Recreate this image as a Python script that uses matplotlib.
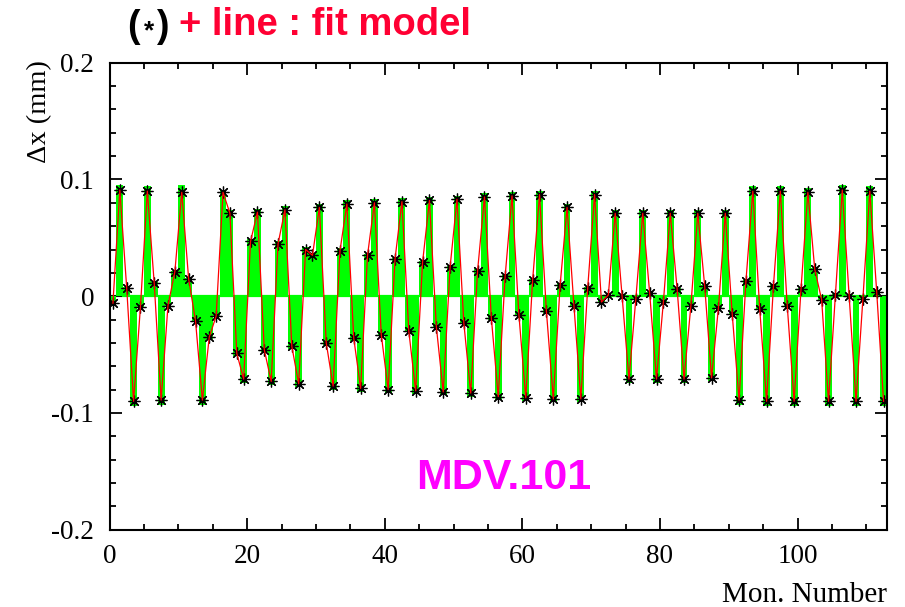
import numpy as np
import matplotlib
matplotlib.use("Agg")
import matplotlib.pyplot as plt
from matplotlib.ticker import MultipleLocator, FuncFormatter

# ── Data ──────────────────────────────────────────────────────────────────────
# monitor index 0..112, bars centred at i + 0.5
N_MON = 113

# measured orbit difference (green bars)
bars = [
    -0.007, 0.095, 0.008, -0.094, -0.010, 0.094, 0.012, -0.093, -0.009, 0.022,
    0.095, 0.016, -0.022, -0.093, -0.037, -0.018, 0.091, 0.074, -0.051, -0.074,
    0.049, 0.075, -0.048, -0.076, 0.047, 0.077, -0.045, -0.078, 0.042, 0.037,
    0.079, -0.042, -0.080, 0.041, 0.082, -0.038, -0.082, 0.036, 0.083, -0.034,
    -0.083, 0.033, 0.084, -0.031, -0.084, 0.030, 0.085, -0.027, -0.085, 0.026,
    0.086, -0.024, -0.086, 0.023, 0.088, -0.020, -0.089, 0.018, 0.089, -0.017,
    -0.090, 0.015, 0.090, -0.014, -0.091, 0.011, 0.079, -0.009, -0.091, 0.008,
    0.090, -0.006, 0.001, 0.074, 0.001, -0.074, -0.002, 0.074, 0.004, -0.074,
    -0.006, 0.074, 0.007, -0.074, -0.009, 0.074, 0.010, -0.073, -0.011, 0.074,
    -0.016, -0.093, 0.014, 0.094, -0.012, -0.094, 0.010, 0.094, -0.009, -0.094,
    0.007, 0.093, 0.024, -0.004, -0.094, 0.002, 0.095, 0.001, -0.094, -0.003,
    0.094, 0.005, -0.094,
]

# fit model (asterisks + red line)
fit = [
    -0.006, 0.091, 0.007, -0.090, -0.009, 0.090, 0.011, -0.089, -0.008, 0.021,
    0.089, 0.015, -0.021, -0.089, -0.035, -0.017, 0.089, 0.071, -0.049, -0.071,
    0.047, 0.072, -0.046, -0.073, 0.045, 0.074, -0.043, -0.075, 0.040, 0.035,
    0.076, -0.040, -0.077, 0.039, 0.079, -0.036, -0.079, 0.035, 0.080, -0.033,
    -0.080, 0.032, 0.081, -0.030, -0.081, 0.029, 0.082, -0.026, -0.082, 0.025,
    0.083, -0.023, -0.083, 0.022, 0.085, -0.019, -0.086, 0.017, 0.086, -0.016,
    -0.087, 0.014, 0.087, -0.013, -0.088, 0.010, 0.076, -0.008, -0.088, 0.007,
    0.087, -0.005, 0.001, 0.071, 0.000, -0.071, -0.002, 0.071, 0.003, -0.071,
    -0.005, 0.071, 0.006, -0.071, -0.008, 0.071, 0.009, -0.070, -0.010, 0.071,
    -0.015, -0.089, 0.013, 0.090, -0.011, -0.090, 0.009, 0.090, -0.008, -0.090,
    0.006, 0.089, 0.023, -0.003, -0.090, 0.001, 0.091, 0.000, -0.090, -0.002,
    0.090, 0.004, -0.090,
]

X_TICKS = [0, 20, 40, 60, 80, 100]
Y_TICKS = [-0.2, -0.1, 0.0, 0.1, 0.2]

# ── Style ─────────────────────────────────────────────────────────────────────
GREEN   = "#00ff00"
RED     = "#ff0000"
TITLE_R = "#ff0033"
MAGENTA = "#ff00ff"
SERIF   = "Liberation Serif"
SANS    = "Liberation Sans"

plt.rcParams["axes.unicode_minus"] = False

W, H = 905, 607
fig = plt.figure(figsize=(W / 100, H / 100), dpi=100)
L, R, T, B = 109.5, 887, 62.7, 529.7
ax = fig.add_axes([L / W, 1 - B / H, (R - L) / W, (B - T) / H])

xc = np.arange(N_MON) + 0.5

# ── Plot ──────────────────────────────────────────────────────────────────────
ax.axhline(0, color=GREEN, lw=1.6, zorder=1)
ax.bar(xc, bars, width=1.0, color=GREEN, linewidth=0, zorder=2)
ax.plot(xc, fit, ls="none", marker=(8, 2, 0), ms=8.5, mec="black", mew=0.9, zorder=3)
ax.plot(xc, fit, color=RED, lw=0.9, zorder=4)

ax.set_xlim(0, 113)
ax.set_ylim(-0.2, 0.2)
ax.set_xticks(X_TICKS)
ax.set_yticks(Y_TICKS)
ax.xaxis.set_minor_locator(MultipleLocator(5))
ax.yaxis.set_minor_locator(MultipleLocator(0.02))
ax.yaxis.set_major_formatter(FuncFormatter(lambda v, p: f"{round(v, 3):g}"))

ax.tick_params(which="both", direction="in", top=True, right=True, width=1.3,
               labelsize=19.5, colors="black")
ax.tick_params(which="major", length=8.5)
ax.tick_params(which="minor", length=4.3)
ax.tick_params(axis="x", pad=10.5)
ax.tick_params(axis="y", pad=11)
for lab in ax.get_xticklabels() + ax.get_yticklabels():
    lab.set_family(SERIF)
for sp in ax.spines.values():
    sp.set_linewidth(1.5)

# ── Labels ────────────────────────────────────────────────────────────────────
fig.text(40 / W, 1 - 60 / H, "Δx (mm)", rotation=90, ha="center", va="top",
         family=SERIF, fontsize=20.5)
fig.text(R / W, 1 - 595 / H, "Mon. Number", ha="right", va="center",
         family=SERIF, fontsize=21)

# title: "(*)" in black with a small centred asterisk, then the red part
fig.text(127 / W, 1 - 27 / H, "(", ha="left", va="center", family=SANS,
         fontweight="bold", fontsize=27, color="black")
fig.text(149 / W, 1 - 31 / H, "*", ha="center", va="center", family=SANS,
         fontweight="bold", fontsize=19, color="black")
fig.text(156 / W, 1 - 27 / H, ")", ha="left", va="center", family=SANS,
         fontweight="bold", fontsize=27, color="black")
fig.text(179 / W, 1 - 25 / H, "+ line : fit model", ha="left", va="center",
         family=SANS, fontweight="bold", fontsize=27.5, color=TITLE_R)

ax.text(0.507, 0.11, "MDV.101", transform=ax.transAxes, ha="center", va="center",
        family=SANS, fontweight="bold", fontsize=31, color=MAGENTA)

fig.savefig("out.png", dpi=100, facecolor="white")
plt.close(fig)
